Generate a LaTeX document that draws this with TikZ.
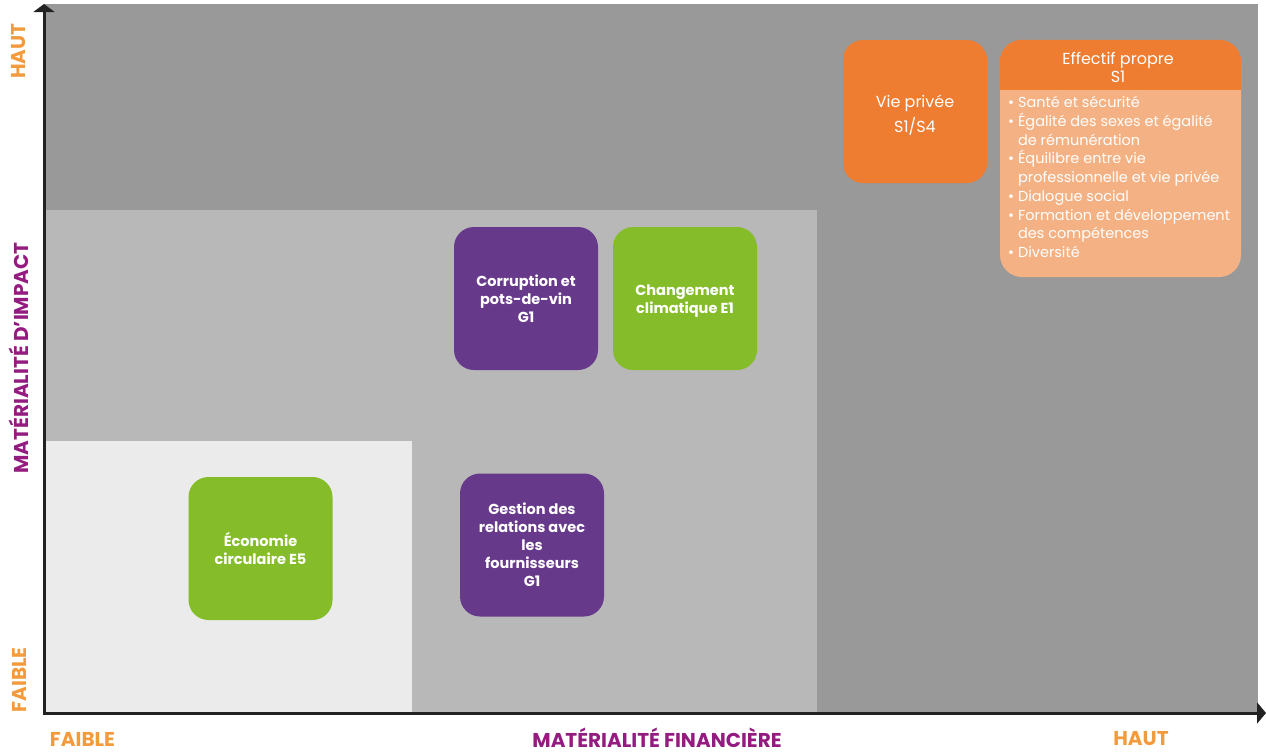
\documentclass[tikz,border=0pt]{standalone}
\usepackage{fontspec}
\setmainfont{Poppins}
\usetikzlibrary{arrows.meta}

\definecolor{bgdark}{HTML}{999999}
\definecolor{bgmid}{HTML}{B8B8B8}
\definecolor{bglight}{HTML}{EBEBEB}
\definecolor{orangeD}{HTML}{EE7D31}
\definecolor{orangeL}{HTML}{F4B183}
\definecolor{purpleG}{HTML}{67398B}
\definecolor{greenE}{HTML}{84BC2A}
\definecolor{axorange}{HTML}{F39B3C}
\definecolor{axpurple}{HTML}{941C80}
\definecolor{axline}{HTML}{222222}

\begin{document}
\begin{tikzpicture}[x=1pt,y=-1pt,
    topic/.style={rounded corners=20pt, minimum width=144pt, minimum height=143pt,
        text=white, align=center, font=\fontsize{14.5}{18}\selectfont\bfseries},
    axislabel/.style={inner sep=0pt, text=axorange, font=\fontsize{20}{20}\selectfont\bfseries},
    axisname/.style={axislabel, text=axpurple}]
\useasboundingbox (0,0) rectangle (1266,755);

% zones
\fill[bgdark] (44,4) rectangle (1258,713);
\fill[bgmid] (44,210) rectangle (817,713);
\fill[bglight] (44,441) rectangle (412,713);

% axes
\coordinate (origin) at (44,713);
\coordinate (ytop) at (44,4);
\coordinate (xend) at (1266,713);
\draw[axline, line width=3pt, {Triangle[width=21pt,length=8pt]}-{Triangle[width=21pt,length=9pt]}]
    (ytop) -- (origin) -- (xend);

\node[axislabel, rotate=90] (yhigh) at (19,51) {HAUT};
\node[axisname, rotate=90] (yname) at (19,358) {MATÉRIALITÉ D’IMPACT};
\node[axislabel, rotate=90] (ylow) at (19,680) {FAIBLE};
\node[axislabel] (xlow) at (82.5,739) {FAIBLE};
\node[axisname, anchor=base] (xname) at (657,747) {MATÉRIALITÉ FINANCIÈRE};
\node[axislabel] (xhigh) at (1141,739) {HAUT};

% topics
\node[topic, fill=orangeD, font=\fontsize{16}{25}\selectfont] (vie) at (915,111.5) {\rule{0pt}{19pt}Vie privée\\S1/S4};
\node[topic, fill=purpleG] (corruption) at (526,298.5) {Corruption et\\pots-de-vin\\G1};
\node[topic, fill=greenE] (climat) at (685,298.5) {\rule{0pt}{15pt}Changement\\climatique E1};
\node[topic, fill=greenE] (economie) at (260.5,548.5) {Économie\\circulaire E5};
\node[topic, fill=purpleG] (gestion) at (532,545) {Gestion des\\relations avec\\les\\fournisseurs\\G1};

% own workforce
\node[fill=orangeL, rounded corners=22pt, minimum width=241pt, minimum height=237pt] (effectif) at (1120.5,158.5) {};
\fill[orangeD] ([yshift=-50pt]effectif.north west) [rounded corners=22pt] -- (effectif.north west)
    -- (effectif.north east) [sharp corners] -- ([yshift=-50pt]effectif.north east) -- cycle;
\node[text=white, align=center, font=\fontsize{16}{18}\selectfont] (effhead) at (1118,67) {Effectif propre\\S1};
\node[anchor=north west, inner sep=0pt, text=white, align=left, font=\fontsize{14.5}{18.75}\selectfont] (efflist) at (1008,96) {%
    • Santé et sécurité\\
    • Égalité des sexes et égalité\\
    \hphantom{• }de rémunération\\
    • Équilibre entre vie\\
    \hphantom{• }professionnelle et vie privée\\
    • Dialogue social\\
    • Formation et développement\\
    \hphantom{• }des compétences\\
    • Diversité};
\end{tikzpicture}
\end{document}
